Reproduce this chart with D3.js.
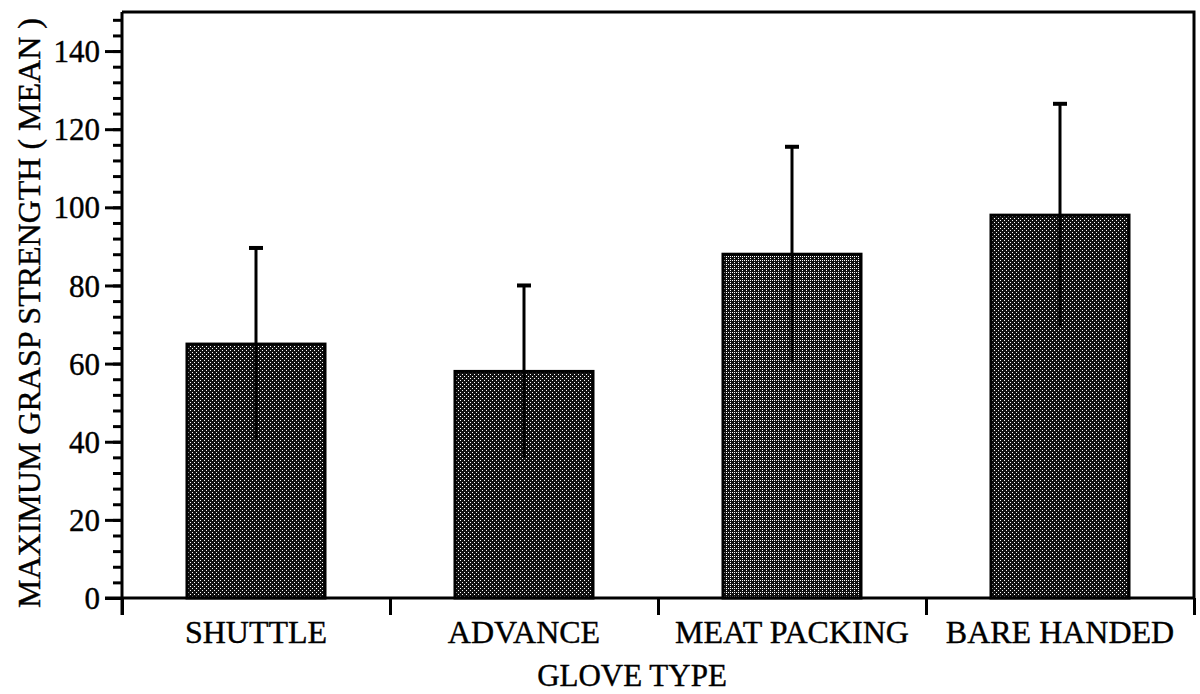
<!DOCTYPE html>
<html>
<head>
<meta charset="utf-8">
<script src="https://cdn.jsdelivr.net/npm/d3@7"></script>
<style>
  body { margin: 0; background: #fff; }
  svg text { font-family: "Liberation Serif", "Times New Roman", serif; fill: #000; stroke: #000; stroke-width: 0.4px; }
</style>
</head>
<body>
<svg id="vis"></svg>
<script>
const width = 1200;
const height = 694;
const margin = { top: 12, right: 6, bottom: 96, left: 122 };

// data
const gloves = ["SHUTTLE", "ADVANCE", "MEAT PACKING", "BARE HANDED"];
const means = [65, 58, 88, 98];
const errors = [24.6, 22, 27.5, 28.5];
const shades = ["dark", "dark", "light", "dark"];
const majorTicks = [0, 20, 40, 60, 80, 100, 120, 140];
const minorTicks = d3.range(0, 150, 4);

const svg = d3.select("#vis")
  .attr("width", width)
  .attr("height", height);

// halftone look for the bars
const defs = svg.append("defs");
function halftone(id, dots) {
  const p = defs.append("pattern")
    .attr("id", id)
    .attr("patternUnits", "userSpaceOnUse")
    .attr("width", 4)
    .attr("height", 4);
  p.append("rect").attr("width", 4).attr("height", 4).attr("fill", "#111");
  dots.forEach(function(d) {
    p.append("rect")
      .attr("x", d[0]).attr("y", d[1])
      .attr("width", 1).attr("height", 1)
      .attr("fill", "#fff");
  });
}
halftone("dark", [[0, 0], [2, 2]]);
halftone("light", [[0, 0], [2, 2], [2, 0]]);

const x = d3.scaleBand()
  .domain(gloves)
  .range([margin.left, width - margin.right])
  .paddingInner(0.485)
  .paddingOuter(0.2425);

const xEdge = d3.scaleLinear()
  .domain([0, gloves.length])
  .range([margin.left, width - margin.right]);

const y = d3.scaleLinear()
  .domain([0, 150])
  .range([height - margin.bottom, margin.top]);

const plotBottom = y(0);

// frame (top and right)
svg.append("path")
  .attr("d", "M" + margin.left + "," + margin.top +
    "H" + (width - margin.right) + "V" + plotBottom)
  .attr("fill", "none")
  .attr("stroke", "#000")
  .attr("stroke-width", 3);

// bars
svg.append("g").selectAll("rect")
  .data(gloves)
  .join("rect")
  .attr("x", d => x(d))
  .attr("y", (d, i) => y(means[i]))
  .attr("width", x.bandwidth())
  .attr("height", (d, i) => plotBottom - y(means[i]))
  .attr("fill", (d, i) => "url(#" + shades[i] + ")")
  .attr("stroke", "#000")
  .attr("stroke-width", 3);

// error bars
const err = svg.append("g").selectAll("g")
  .data(gloves)
  .join("g");

err.append("line")
  .attr("x1", d => x(d) + x.bandwidth() / 2)
  .attr("x2", d => x(d) + x.bandwidth() / 2)
  .attr("y1", (d, i) => y(means[i] - errors[i]))
  .attr("y2", (d, i) => y(means[i] + errors[i]))
  .attr("stroke", "#000")
  .attr("stroke-width", 3);

err.append("line")
  .attr("x1", d => x(d) + x.bandwidth() / 2 - 7)
  .attr("x2", d => x(d) + x.bandwidth() / 2 + 7)
  .attr("y1", (d, i) => y(means[i] + errors[i]))
  .attr("y2", (d, i) => y(means[i] + errors[i]))
  .attr("stroke", "#000")
  .attr("stroke-width", 4);

// y axis: minor then major ticks
const yMinor = svg.append("g")
  .attr("transform", "translate(" + margin.left + ",0)")
  .call(d3.axisLeft(y).tickValues(minorTicks).tickSize(9).tickFormat(""));

const yAxis = svg.append("g")
  .attr("transform", "translate(" + margin.left + ",0)")
  .call(d3.axisLeft(y).tickValues(majorTicks).tickSize(17).tickPadding(5));

[yMinor, yAxis].forEach(function(g) {
  g.select(".domain").remove();
  g.selectAll("line").attr("stroke", "#000").attr("stroke-width", 3);
});
yAxis.selectAll("text")
  .style("font-size", "31px")
  .attr("dy", "0.34em");

// y axis line, running a bit below zero
svg.append("line")
  .attr("x1", margin.left).attr("x2", margin.left)
  .attr("y1", margin.top).attr("y2", plotBottom + 17)
  .attr("stroke", "#000")
  .attr("stroke-width", 3);

// x axis line and category edge ticks
svg.append("line")
  .attr("x1", margin.left - 17).attr("x2", width - margin.right)
  .attr("y1", plotBottom).attr("y2", plotBottom)
  .attr("stroke", "#000")
  .attr("stroke-width", 3);

const xTicks = svg.append("g")
  .attr("transform", "translate(0," + plotBottom + ")")
  .call(d3.axisBottom(xEdge).tickValues(d3.range(0, gloves.length + 1)).tickSize(17).tickFormat(""));
xTicks.select(".domain").remove();
xTicks.selectAll("line").attr("stroke", "#000").attr("stroke-width", 3);

// category labels
const xAxis = svg.append("g")
  .attr("transform", "translate(0," + plotBottom + ")")
  .call(d3.axisBottom(x).tickSize(0));
xAxis.select(".domain").remove();
xAxis.selectAll("text")
  .attr("y", 45)
  .attr("dy", 0)
  .style("font-size", "32px");

// axis titles
svg.append("text")
  .attr("x", 632)
  .attr("y", 686)
  .attr("text-anchor", "middle")
  .style("font-size", "31px")
  .text("GLOVE TYPE");

svg.append("text")
  .attr("transform", "translate(40,313) rotate(-90)")
  .attr("text-anchor", "middle")
  .style("font-size", "32px")
  .text("MAXIMUM GRASP STRENGTH ( MEAN )");
</script>
</body>
</html>
